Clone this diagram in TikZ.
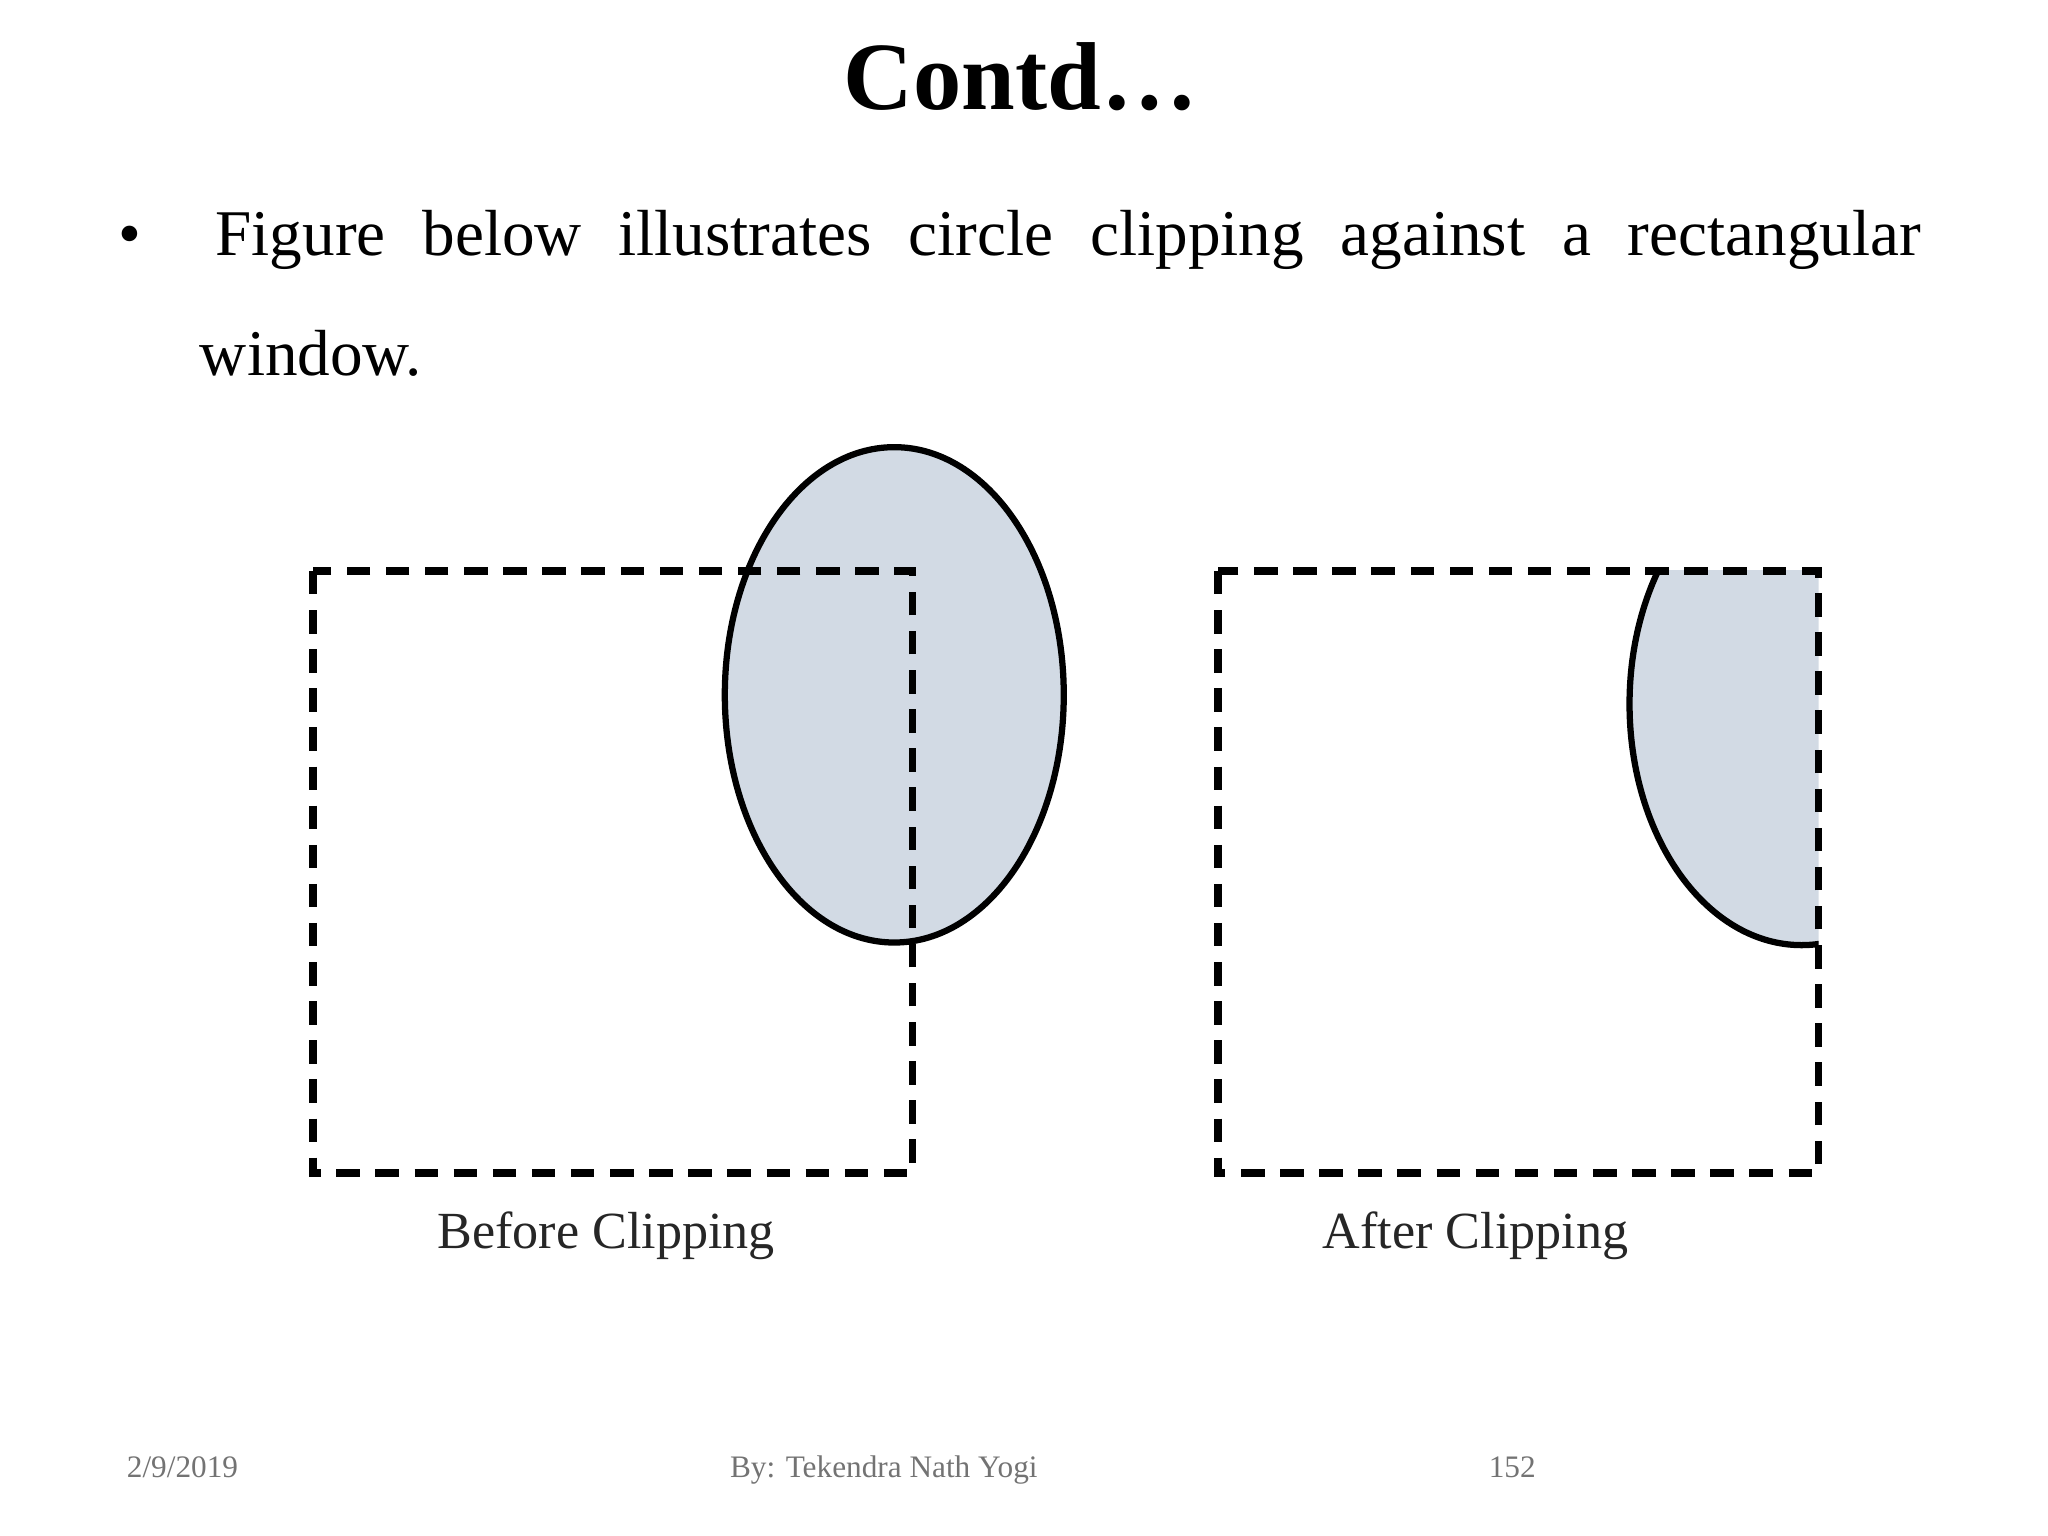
\documentclass[tikz,border=0pt]{standalone}
\usepackage{fontspec}
\setmainfont{Liberation Serif}
\begin{document}
\begin{tikzpicture}[x=0.5pt,y=-0.5pt,
  win/.style={draw=black,line width=3pt,dash pattern=on 9pt off 6pt},
  blob/.style={fill={rgb,255:red,210;green,218;blue,228},draw=black,line width=2.4pt},
  lbl/.style={font=\fontsize{20}{24}\selectfont,text=black!85,anchor=base},
  foot/.style={font=\fontsize{12}{14}\selectfont,text=black!55,anchor=base}]
\useasboundingbox (0,0) rectangle (1571,1178);
\node[font=\fontsize{37}{44}\selectfont\bfseries,anchor=base] (title) at (783,84) {Contd…};
\node[font=\fontsize{25}{30}\selectfont,anchor=base] (bul) at (100,196) {•};
\node[font=\fontsize{25}{30}\selectfont,anchor=base west,inner sep=0] (l1) at (165,196)
  {\makebox[654pt][s]{Figure below illustrates circle clipping against a rectangular}};
\node[font=\fontsize{25}{30}\selectfont,anchor=base west,inner sep=0] (l2) at (153,288) {window.};
% before
\draw[blob] (686,533) ellipse (130 and 190);
\draw[win] (240,438) rectangle (700,900);
% after
\begin{scope}
\clip (934,438) rectangle (1395,900);
\draw[blob] (1382,540) ellipse (132 and 185);
\end{scope}
\draw[win] (934,438) rectangle (1395,900);
\node[lbl] (b) at (465,958) {Before Clipping};
\node[lbl] (a) at (1132,958) {After Clipping};
\node[foot] (d) at (140,1133) {2/9/2019};
\node[foot] (n) at (678,1133) {By: Tekendra Nath Yogi};
\node[foot] (p) at (1160,1133) {152};
\end{tikzpicture}
\end{document}
